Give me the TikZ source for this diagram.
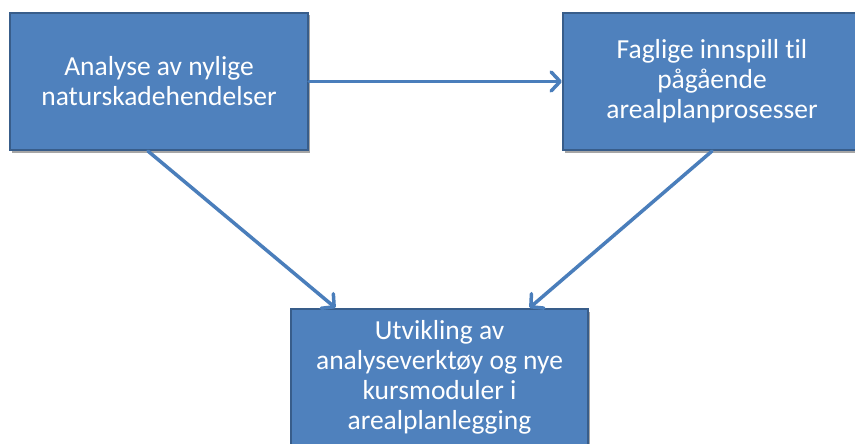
\documentclass[tikz,border=0pt]{standalone}
\usepackage{fontspec}
\setmainfont{Carlito}[Ligatures=NoCommon]
\usetikzlibrary{arrows.meta,shadows,calc}
\definecolor{boxfill}{HTML}{4F81BD}
\definecolor{boxline}{HTML}{385D8A}
\definecolor{arrowcol}{HTML}{4A7EBB}
\tikzset{
  box/.style={draw=boxline, line width=2.2pt, fill=boxfill, minimum width=298pt, minimum height=137pt,
    text=white, align=center, inner sep=0pt,
    font=\fontsize{27.5}{30}\selectfont,
    drop shadow={shadow xshift=2pt, shadow yshift=-2.5pt, opacity=0.35, fill=black}},
  conn/.style={draw=arrowcol, line width=3.5pt, -{Straight Barb[length=9pt, width=19pt, line width=3.5pt, round]}, line cap=round}
}
\begin{document}
\begin{tikzpicture}[x=1pt, y=-1pt]
\useasboundingbox (0,0) rectangle (855,444);
\clip (0,0) rectangle (855,444);
\fill[white] (0,0) rectangle (855,444);
\node[box] (a) at (159,81.5) {Analyse av nylige\\naturskadehendelser};
\node[box] (b) at (712,81.5) {Faglige innspill til\\pågående\\arealplanprosesser};
\node[box, minimum width=297pt] (c) at (439.5,377.5) {Utvikling av\\analyseverktøy og nye\\kursmoduler i\\arealplanlegging};
\draw[conn] (a.east) -- (b.west);
\draw[conn] ($(a.south)+(-11,0)$) -- ($(c.north)+(-104,0)$);
\draw[conn] (b.south) -- ($(c.north)+(90,0)$);
\end{tikzpicture}
\end{document}
